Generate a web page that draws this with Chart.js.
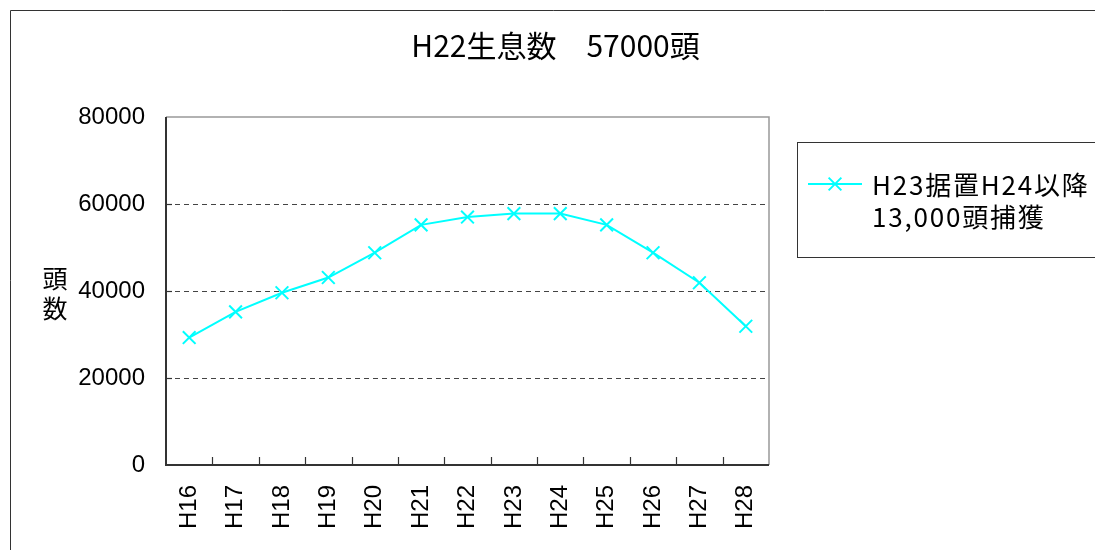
<!DOCTYPE html>
<html>
<head>
<meta charset="utf-8">
<script src="https://cdn.jsdelivr.net/npm/chart.js@4/dist/chart.umd.min.js"></script>
<style>
  html, body { margin: 0; padding: 0; background: #ffffff; }
  #wrap { width: 1095px; height: 550px; position: relative; }
</style>
</head>
<body>
<div id="wrap"><canvas id="c" width="1095" height="550"></canvas></div>
<script>
// ---- data ----
const categories = ['H16', 'H17', 'H18', 'H19', 'H20', 'H21', 'H22', 'H23', 'H24', 'H25', 'H26', 'H27', 'H28'];
const population = [29300, 35200, 39600, 43100, 48800, 55200, 57000, 57800, 57800, 55200, 48800, 41900, 31900];
const yTickValues = [0, 20000, 40000, 60000, 80000];
const gridValues = [20000, 40000, 60000];
const titleText = 'H22生息数　57000頭';
const yAxisTitle = ['頭', '数'];
const seriesLabelLines = ['H23据置H24以降', '13,000頭捕獲'];

const CYAN = '#00FFFF';

const decor = {
  id: 'decor',
  beforeDatasetsDraw(chart) {
    const ctx = chart.ctx;
    const ca = chart.chartArea;
    const y = chart.scales.y;
    const x = chart.scales.x;
    ctx.save();
    // dashed grid lines
    ctx.strokeStyle = '#444';
    ctx.lineWidth = 1;
    ctx.setLineDash([5, 4]);
    gridValues.forEach(v => {
      const py = Math.round(y.getPixelForValue(v)) + 0.5;
      ctx.beginPath(); ctx.moveTo(ca.left, py); ctx.lineTo(ca.right, py); ctx.stroke();
    });
    ctx.setLineDash([]);
    // top and right borders (gray)
    ctx.strokeStyle = '#999';
    ctx.lineWidth = 1.5;
    const topY = y.getPixelForValue(yTickValues[yTickValues.length - 1]);
    ctx.beginPath();
    ctx.moveTo(ca.left, topY); ctx.lineTo(ca.right, topY); ctx.lineTo(ca.right, ca.bottom);
    ctx.stroke();
    // left and bottom axes (dark)
    ctx.strokeStyle = '#333';
    ctx.lineWidth = 2;
    const botY = y.getPixelForValue(yTickValues[0]);
    ctx.beginPath();
    ctx.moveTo(ca.left, topY); ctx.lineTo(ca.left, botY); ctx.lineTo(ca.right, botY);
    ctx.stroke();
    // inside tick marks on x (between categories)
    ctx.lineWidth = 1.2;
    for (let i = 1; i < categories.length; i++) {
      const px = Math.round((x.getPixelForTick(i - 1) + x.getPixelForTick(i)) / 2) + 0.5;
      ctx.beginPath(); ctx.moveTo(px, botY); ctx.lineTo(px, botY - 8); ctx.stroke();
    }
    // inside tick marks on y
    yTickValues.slice(1, -1).forEach(v => {
      const py = Math.round(y.getPixelForValue(v)) + 0.5;
      ctx.beginPath(); ctx.moveTo(ca.left, py); ctx.lineTo(ca.left + 6, py); ctx.stroke();
    });
    ctx.restore();
  },
  afterDraw(chart) {
    const ctx = chart.ctx;
    ctx.save();
    // outer frame
    ctx.strokeStyle = '#333';
    ctx.lineWidth = 1;
    ctx.beginPath();
    ctx.moveTo(10.5, 560); ctx.lineTo(10.5, 10.5); ctx.lineTo(1100, 10.5);
    ctx.stroke();
    // y axis title (stacked characters)
    ctx.fillStyle = '#000';
    ctx.font = '25px "Noto Sans CJK JP"';
    ctx.textAlign = 'center';
    ctx.textBaseline = 'middle';
    ctx.fillText(yAxisTitle[0], 55, 278);
    ctx.fillText(yAxisTitle[1], 55, 308);
    // legend box
    ctx.strokeStyle = '#333';
    ctx.lineWidth = 1;
    ctx.strokeRect(797.5, 142.5, 400, 115);
    ctx.strokeStyle = CYAN;
    ctx.lineWidth = 2;
    ctx.beginPath(); ctx.moveTo(808, 184); ctx.lineTo(862, 184); ctx.stroke();
    const r = 9 * Math.SQRT1_2;
    ctx.beginPath();
    ctx.moveTo(835 - r, 184 - r); ctx.lineTo(835 + r, 184 + r);
    ctx.moveTo(835 - r, 184 + r); ctx.lineTo(835 + r, 184 - r);
    ctx.stroke();
    ctx.fillStyle = '#000';
    ctx.font = '26px "Noto Sans CJK JP"';
    try { ctx.letterSpacing = '1.8px'; } catch (e) {}
    ctx.textAlign = 'left';
    ctx.textBaseline = 'middle';
    ctx.fillText(seriesLabelLines[0], 872, 185);
    ctx.fillText(seriesLabelLines[1], 872, 217);
    ctx.restore();
  }
};

new Chart(document.getElementById('c'), {
  type: 'line',
  data: {
    labels: categories,
    datasets: [{
      label: seriesLabelLines.join(''),
      data: population,
      borderColor: CYAN,
      backgroundColor: CYAN,
      borderWidth: 2,
      tension: 0,
      pointStyle: 'crossRot',
      pointRadius: 9,
      pointHoverRadius: 9,
      pointBorderWidth: 2,
      pointBorderColor: CYAN,
      fill: false
    }]
  },
  options: {
    responsive: false,
    animation: false,
    devicePixelRatio: 1,
    layout: { padding: { left: 16, right: 0, top: 0, bottom: 0 } },
    plugins: {
      legend: { display: false },
      tooltip: { enabled: false },
      title: {
        display: true,
        text: titleText,
        color: '#000',
        font: { family: '"Noto Sans CJK JP"', size: 30, weight: 'normal', lineHeight: 1.2 },
        padding: { top: 28, bottom: 53 }
      }
    },
    scales: {
      x: {
        type: 'category',
        offset: true,
        grid: { display: false },
        border: { display: false },
        ticks: {
          autoSkip: false,
          minRotation: 90,
          maxRotation: 90,
          padding: 12,
          color: '#000',
          font: { family: '"Liberation Sans", Arial, sans-serif', size: 24 }
        },
        afterFit(s) { s.height = 85; }
      },
      y: {
        type: 'linear',
        position: 'left',
        min: 0,
        max: 80000,
        grid: { display: false },
        border: { display: false },
        afterBuildTicks(s) { s.ticks = yTickValues.map(v => ({ value: v })); },
        ticks: {
          padding: 13,
          color: '#000',
          font: { family: '"Liberation Sans", Arial, sans-serif', size: 24 },
          callback: v => String(v)
        },
        afterFit(s) { s.width = 150; }
      },
      yRight: {
        type: 'linear',
        position: 'right',
        display: true,
        grid: { display: false },
        border: { display: false },
        ticks: { display: false },
        afterFit(s) { s.width = 326; }
      }
    }
  },
  plugins: [decor]
});
</script>
</body>
</html>
